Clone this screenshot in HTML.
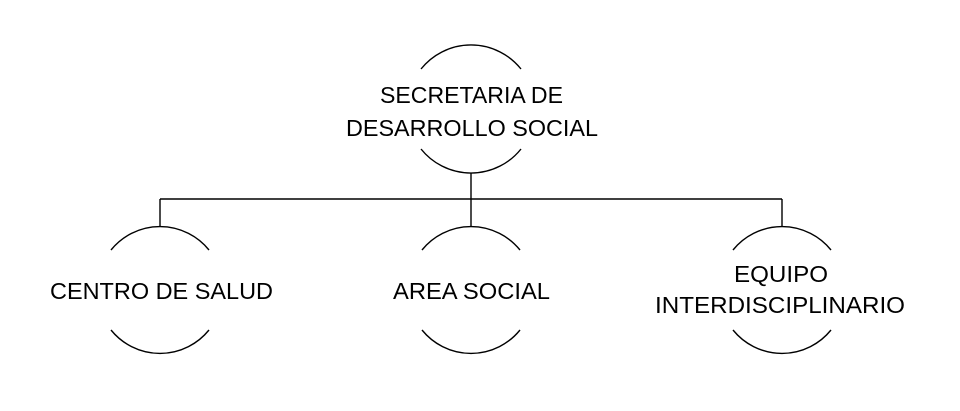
<!DOCTYPE html>
<html><head><meta charset="utf-8"><style>
html,body{margin:0;padding:0;background:#fff;}
svg{display:block}
text{font-family:"Liberation Sans",sans-serif;font-size:23px;fill:#000;}
</style></head><body>
<svg width="960" height="411" viewBox="0 0 960 411" xmlns="http://www.w3.org/2000/svg">
<g fill="none" stroke="#000" stroke-width="1.4">
<path d="M421,69 A64,64 0 0 1 521,69"/>
<path d="M421,149 A64,64 0 0 0 521,149"/>
<path d="M471,173 V199 M160,199 H782 M160,199 V227 M471,199 V227 M782,199 V227"/>
<path d="M111,250 A63,63 0 0 1 209,250"/>
<path d="M111,330 A63,63 0 0 0 209,330"/>
<path d="M422,250 A63,63 0 0 1 520,250"/>
<path d="M422,330 A63,63 0 0 0 520,330"/>
<path d="M733,250 A63,63 0 0 1 831,250"/>
<path d="M733,330 A63,63 0 0 0 831,330"/>
</g>
<text x="380" y="103" textLength="183" lengthAdjust="spacingAndGlyphs">SECRETARIA DE</text>
<text x="346" y="136" textLength="252" lengthAdjust="spacingAndGlyphs">DESARROLLO SOCIAL</text>
<text x="50" y="299" textLength="223" lengthAdjust="spacingAndGlyphs">CENTRO DE SALUD</text>
<text x="393" y="299" textLength="157" lengthAdjust="spacingAndGlyphs">AREA SOCIAL</text>
<text x="734" y="282" textLength="94" lengthAdjust="spacingAndGlyphs">EQUIPO</text>
<text x="655" y="313" textLength="250" lengthAdjust="spacingAndGlyphs">INTERDISCIPLINARIO</text>
</svg>
</body></html>
